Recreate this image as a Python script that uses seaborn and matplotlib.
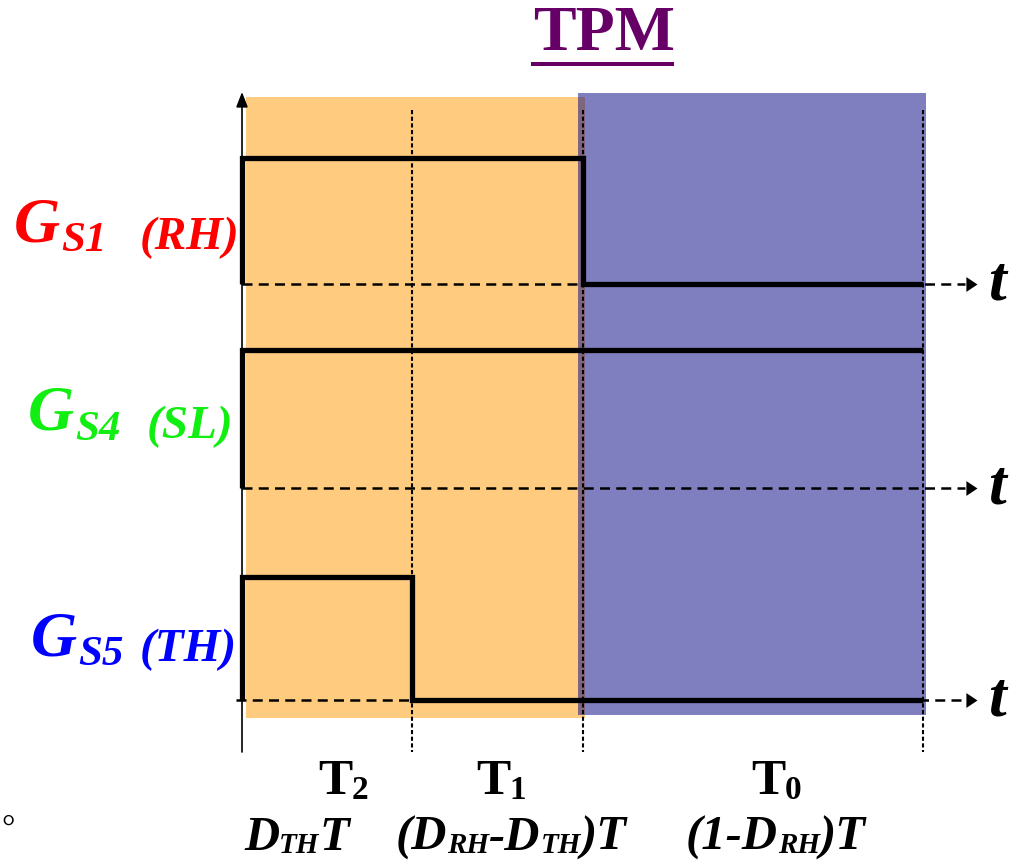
import matplotlib
matplotlib.use("Agg")
import matplotlib.pyplot as plt
from matplotlib.transforms import Affine2D
from matplotlib.lines import Line2D
from matplotlib.patches import Rectangle
import pandas as pd
import seaborn as sns

# ---- switching period split (fractions of T) ----
D_TH = 0.25
D_RH = 0.50
EDGES = [0.0, D_TH, D_RH, 1.0]

# ---- gate signals: on/off state in each sub-interval (T2, T1, T0) ----
GATES = ["S1", "S4", "S5"]
ROLES = ["(RH)", "(SL)", "(TH)"]
GATE_COLORS = ["#FF0000", "#11EE11", "#0000FF"]
STATE_S1 = [1, 1, 0]
STATE_S4 = [1, 1, 1]
STATE_S5 = [1, 0, 0]

# ---- interval labels ----
PHASE_SUBS = ["2", "1", "0"]
DURATIONS = [
    [("D", 0), ("TH", 1), ("T", 0)],
    [("(D", 0), ("RH", 1), ("-D", 0), ("TH", 1), (")T", 0)],
    [("(1-D", 0), ("RH", 1), (")T", 0)],
]
TITLE = "TPM"

# ---- layout (pixels) ----
W, H = 1017, 866
X0, SPAN = 242, 681                 # t = 0 and the length of T on screen
LANE_BASE = [284, 488, 700]         # low level of each lane
LANE_HIGH = [158, 350, 577]         # high level of each lane

sns.set_theme(style="white")
fig = plt.figure(figsize=(W / 100, H / 100), dpi=100)
ax = fig.add_axes([0, 0, 1, 1])
ax.set_xlim(-X0 / SPAN, (W - X0) / SPAN)
ax.set_ylim(H, 0)
ax.axis("off")

PX = Affine2D().scale(1 / W, -1 / H).translate(0, 1) + fig.transFigure
BI = dict(family="Liberation Serif", weight="bold", style="italic")
B = dict(family="Liberation Serif", weight="bold")
renderer = fig.canvas.get_renderer()


def draw_runs(x, y, runs, align="left", **style):
    """Lay out consecutive text runs (text, size, dy, kern) on one baseline."""
    items, cur = [], 0.0
    for text, size, dy, kern in runs:
        cur += kern
        t = fig.text(0, 0, text, fontsize=size, transform=PX,
                     ha="left", va="baseline", **style)
        w = t.get_window_extent(renderer).width
        items.append((t, cur, dy))
        cur += w
    if align == "right":
        start = x - cur
    elif align == "center":
        start = x - cur / 2
    else:
        start = x
    for t, off, dy in items:
        t.set_position((start + off, y + dy))


# ---- background intervals ----
ax.add_patch(Rectangle((0.006, 97), D_RH + 0.004 - 0.006, 621,
                       fc="#FF9900", alpha=0.5, ec="none", zorder=0))
ax.add_patch(Rectangle((D_RH - 0.007, 93), 1.004 - (D_RH - 0.007), 622,
                       fc="#000080", alpha=0.5, ec="none", zorder=0.5))

# ---- time axis and interval boundaries ----
ax.annotate("", xy=(0, 92), xytext=(0, 752),
            arrowprops=dict(arrowstyle="-|>,head_length=0.9,head_width=0.35",
                            lw=1.2, color="black", shrinkA=0, shrinkB=0,
                            mutation_scale=10), zorder=3)
ax.vlines(EDGES[1:], 110, 752, colors="black", linestyles=(0, (2, 1.2)),
          lw=1.5, zorder=3)

# ---- gate waveforms ----
states = [STATE_S1, STATE_S4, STATE_S5]
rows = []
for gate, st, base, high in zip(GATES, states, LANE_BASE, LANE_HIGH):
    times = [EDGES[0]] + EDGES[:-1] + [EDGES[-1]]
    levels = [0] + st + [st[-1]]
    for t, s in zip(times, levels):
        rows.append({"gate": gate, "t": t, "y": base + (high - base) * s})
wave = pd.DataFrame(rows)
sns.lineplot(data=wave, x="t", y="y", units="gate", estimator=None, sort=False,
             color="black", lw=3.8, drawstyle="steps-post",
             solid_joinstyle="miter", solid_capstyle="butt", ax=ax, zorder=4)
ax.axis("off")

# ---- dashed zero lines with arrow heads ----
arrow_marker = [(0, 0), (-1.5, 1), (-1.5, -1), (0, 0)]
starts = [0.0, 0.0, -0.009]
for base, x_start in zip(LANE_BASE, starts):
    ax.plot([x_start, 1.062], [base, base], color="black", lw=1.8,
            ls=(0, (4, 2.5)), zorder=3)
    ax.plot([1.079], [base], marker=arrow_marker, ms=16, color="black",
            mec="black", mew=0, zorder=3)
    fig.text(988, base + 16, "t", fontsize=46, transform=PX,
             ha="left", va="baseline", color="black", **BI)

# ---- gate names ----
G_LEFT = [14, 28, 31]
G_BASELINE = [241, 430, 655]
ROLE_RIGHT = [239, 233, 237]
ROLE_BASELINE = [249, 438, 661]
for i, gate in enumerate(GATES):
    draw_runs(G_LEFT[i], G_BASELINE[i], [("G", 46, 0, 0), (gate, 31, 10, 1)],
              color=GATE_COLORS[i], **BI)
    draw_runs(ROLE_RIGHT[i], ROLE_BASELINE[i], [(ROLES[i], 34, 0, 0)],
              align="right", color=GATE_COLORS[i], **BI)

# ---- title ----
fig.text(533, 50, TITLE, fontsize=46, transform=PX, ha="left",
         va="baseline", color="#660066", **B)
fig.add_artist(Line2D([531, 674], [64, 64], transform=PX, color="#660066",
                      lw=2.9, solid_capstyle="butt"))

# ---- interval names and durations ----
PHASE_LEFT = [318, 476, 751]
DUR_LEFT = [244, 396, 686]
for i, sub in enumerate(PHASE_SUBS):
    draw_runs(PHASE_LEFT[i], 794, [("T", 37, 0, 0), (sub, 24, 5, -1)],
              color="black", **B)
    runs = [(txt, 21 if s else 35, 3 if s else 0, 0) for txt, s in DURATIONS[i]]
    draw_runs(DUR_LEFT[i], 850, runs, color="black", **BI)

fig.text(1, 838, "°", fontsize=24, transform=PX, ha="left", va="baseline",
         color="black", family="Liberation Serif")

fig.savefig("out.png", dpi=100)
